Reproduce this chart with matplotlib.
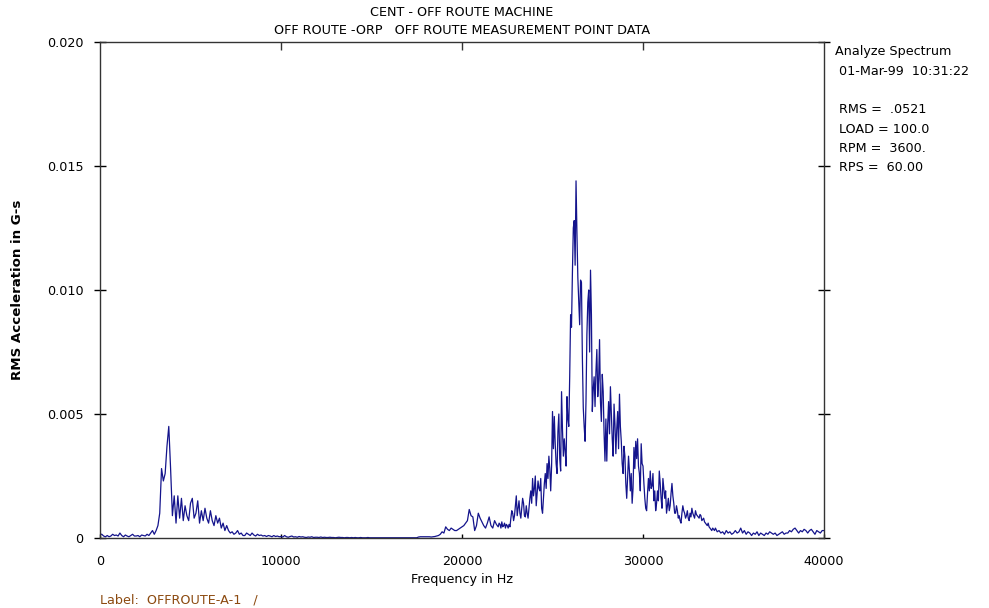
import numpy as np
import matplotlib
matplotlib.use("Agg")
import matplotlib.pyplot as plt

# spectrum amplitudes in milli-G
# low/mid bands every 100 Hz, the busy peak band every 50 Hz
band_low = [  # 0 - 9900 Hz, 100 Hz
    0.15, 0.15, 0.08, 0.05, 0.1, 0.05, 0.08, 0.15, 0.1, 0.12, 0.08, 0.2, 0.1, 0.05, 0.12, 0.08, 0.05, 0.1, 0.15, 0.08,
    0.08, 0.1, 0.05, 0.12, 0.1, 0.08, 0.15, 0.1, 0.2, 0.3, 0.15, 0.3, 0.5, 1.0, 2.8, 2.3, 2.6, 3.7, 4.5, 2.8,
    0.9, 1.7, 0.6, 1.7, 0.8, 1.6, 0.7, 1.3, 0.9, 0.7, 1.4, 1.6, 0.8, 1.0, 1.5, 0.6, 1.1, 0.7, 1.2, 0.8,
    0.6, 1.1, 0.7, 0.5, 0.9, 0.6, 0.8, 0.4, 0.6, 0.3, 0.5, 0.3, 0.2, 0.25, 0.15, 0.2, 0.3, 0.15, 0.2, 0.1,
    0.1, 0.2, 0.15, 0.1, 0.2, 0.12, 0.08, 0.15, 0.1, 0.12, 0.08, 0.1, 0.06, 0.1, 0.08, 0.05, 0.1, 0.06, 0.08, 0.05,
]
band_mid = [  # 10000 - 21900 Hz, 100 Hz
    0.06, 0.04, 0.1, 0.05, 0.03, 0.06, 0.08, 0.04, 0.05, 0.03, 0.06, 0.04, 0.05, 0.03, 0.02, 0.04, 0.03, 0.05, 0.02, 0.03,
    0.03, 0.02, 0.04, 0.02, 0.03, 0.02, 0.02, 0.03, 0.02, 0.02, 0.01, 0.02, 0.03, 0.02, 0.02, 0.01, 0.02, 0.02, 0.01, 0.02,
    0.01, 0.02, 0.01, 0.01, 0.02, 0.01, 0.01, 0.01, 0.02, 0.01, 0.01, 0.01, 0.01, 0.01, 0.01, 0.01, 0.01, 0.01, 0.01, 0.01,
    0.01, 0.01, 0.01, 0.01, 0.01, 0.01, 0.01, 0.01, 0.01, 0.01, 0.01, 0.01, 0.01, 0.01, 0.01, 0.01, 0.04, 0.05, 0.05, 0.05,
    0.05, 0.05, 0.05, 0.04, 0.05, 0.06, 0.08, 0.1, 0.15, 0.25, 0.2, 0.45, 0.35, 0.3, 0.4, 0.35, 0.3, 0.3, 0.35, 0.4,
    0.45, 0.5, 0.6, 0.7, 1.15, 0.9, 0.85, 0.3, 0.5, 1.0, 0.8, 0.65, 0.5, 0.4, 0.6, 0.85, 0.5, 0.4, 0.7, 0.55,
]
band_peak = [  # 22000 - 33950 Hz, 50 Hz
    0.45, 0.6, 0.55, 0.4, 0.65, 0.45, 0.5, 0.6, 0.4, 0.55, 0.5, 0.4, 0.55, 0.45, 0.8, 1.1, 1.0, 0.7, 0.9, 1.3,
    1.7, 0.9, 1.2, 1.5, 1.0, 0.8, 1.2, 1.6, 1.4, 0.9, 0.85, 1.3, 1.0, 0.8, 1.2, 1.6, 1.9, 1.4, 2.4, 1.7,
    2.0, 2.5, 1.3, 1.8, 2.3, 2.0, 1.9, 2.4, 1.2, 1.0, 1.6, 2.2, 2.6, 2.0, 3.0, 2.4, 3.3, 2.8, 1.9, 2.9,
    5.1, 3.6, 4.9, 3.8, 3.0, 2.6, 4.3, 5.0, 3.2, 2.7, 5.9, 4.4, 3.3, 4.0, 3.5, 2.9, 5.7, 4.8, 4.5, 6.5,
    9.0, 8.5, 10.7, 12.5, 12.8, 11.0, 14.4, 12.3, 10.5, 9.5, 8.6, 10.4, 10.3, 7.3, 5.25, 4.5, 3.9, 5.5, 8.2, 9.5,
    10.0, 7.5, 10.8, 9.0, 5.1, 6.0, 6.5, 5.3, 6.7, 7.6, 5.7, 6.4, 8.0, 5.5, 4.7, 6.6, 5.9, 4.2, 3.1, 4.8,
    3.1, 4.6, 5.5, 4.2, 6.1, 5.0, 4.0, 3.3, 5.4, 4.6, 3.4, 4.4, 5.1, 3.6, 5.8, 4.5, 3.9, 3.0, 2.6, 3.7,
    3.3, 2.2, 1.6, 2.5, 3.3, 2.7, 1.9, 2.6, 1.4, 2.0, 3.65, 2.8, 3.9, 3.2, 4.0, 2.9, 2.6, 1.9, 3.8, 3.0,
    2.9, 2.2, 1.6, 1.2, 1.1, 1.8, 2.4, 1.9, 2.7, 2.0, 2.1, 2.6, 1.5, 1.9, 1.1, 1.4, 1.9, 1.5, 2.7, 2.2,
    1.6, 1.2, 2.4, 2.0, 1.6, 1.9, 1.0, 1.3, 1.6, 1.1, 1.3, 1.8, 2.2, 1.7, 1.4, 1.0, 1.0, 1.3, 1.1, 0.8,
    0.9, 0.7, 0.6, 1.0, 1.3, 1.1, 1.0, 0.8, 0.9, 1.1, 0.8, 0.7, 1.0, 0.85, 1.2, 1.0, 0.9, 0.8, 1.1, 0.95,
    0.9, 0.85, 0.8, 0.95, 0.9, 0.7, 0.75, 0.8, 0.65, 0.6, 0.55, 0.5, 0.6, 0.45, 0.4, 0.35, 0.3, 0.4, 0.35, 0.3,
]
band_tail = [  # 34000 - 40000 Hz, 100 Hz
    0.4, 0.25, 0.3, 0.2, 0.25, 0.15, 0.3, 0.2, 0.25, 0.15, 0.2, 0.3, 0.2, 0.25, 0.4, 0.2, 0.3, 0.15, 0.25, 0.2,
    0.1, 0.2, 0.15, 0.25, 0.1, 0.2, 0.15, 0.1, 0.2, 0.15, 0.25, 0.2, 0.15, 0.2, 0.1, 0.15, 0.2, 0.25, 0.15, 0.2,
    0.2, 0.3, 0.25, 0.35, 0.4, 0.3, 0.2, 0.3, 0.25, 0.35, 0.3, 0.2, 0.3, 0.35, 0.25, 0.15, 0.3, 0.25, 0.2, 0.3,
    0.3,
]
# (start Hz, step Hz) of each band
band_grid = [(0, 100), (10000, 100), (22000, 50), (34000, 100)]

y_ticks = [0, 0.005, 0.010, 0.015, 0.020]
y_tick_labels = ["0", "0.005", "0.010", "0.015", "0.020"]
x_ticks = [0, 10000, 20000, 30000, 40000]
x_tick_labels = ["0", "10000", "20000", "30000", "40000"]

title_1 = "CENT - OFF ROUTE MACHINE"
title_2 = "OFF ROUTE -ORP   OFF ROUTE MEASUREMENT POINT DATA"
info_lines = ["Analyze Spectrum", " 01-Mar-99  10:31:22", "", " RMS =  .0521", " LOAD = 100.0",
              " RPM =  3600.", " RPS =  60.00"]
point_label = "Label:  OFFROUTE-A-1   /"

bands = [band_low, band_mid, band_peak, band_tail]
freq = np.concatenate([start + step * np.arange(len(b)) for b, (start, step) in zip(bands, band_grid)])
amp = np.concatenate([np.array(b) for b in bands]) / 1000.0

plt.rcParams['font.family'] = ['DejaVu Sans']
fs = 9.2

fig = plt.figure(figsize=(9.89, 6.08), dpi=100)
ax = fig.add_axes([100 / 989, 70 / 608, 724 / 989, 496 / 608])

ax.plot(freq, amp, color='#14148c', linewidth=0.9)

ax.set_xlim(0, 40000)
ax.set_ylim(0, 0.020)
ax.set_yticks(y_ticks)
ax.set_yticklabels(y_tick_labels, fontsize=fs)
ax.set_xticks(x_ticks)
ax.set_xticklabels(x_tick_labels, fontsize=fs)

ax.tick_params(axis='y', direction='inout', length=8, width=1, left=True, right=True, pad=8)
ax.tick_params(axis='x', direction='in', length=3, width=1, top=False, bottom=True, pad=12)

# top ticks are longer than the bottom ones
top = ax.secondary_xaxis('top')
top.set_xticks(x_ticks[1:-1])
top.set_xticklabels([])
top.tick_params(direction='in', length=6, width=1, color='#333333')
top.spines['top'].set_visible(False)

for sp in ax.spines.values():
    sp.set_linewidth(1.0)
    sp.set_color('#333333')

ax.set_xlabel("Frequency in Hz", fontsize=fs, labelpad=4)
ax.set_ylabel("RMS Acceleration in G-s", fontsize=9.6, fontweight='bold', labelpad=16)

fig.text(462 / 989, 1 - 12 / 608, title_1, ha='center', va='center', fontsize=fs)
fig.text(462 / 989, 1 - 31 / 608, title_2, ha='center', va='center', fontsize=fs)

for i, line in enumerate(info_lines):
    fig.text(835 / 989, 1 - (52 + i * 19.3) / 608, line, ha='left', va='center', fontsize=fs)

fig.text(100 / 989, 1 - 600 / 608, point_label, ha='left', va='center', fontsize=fs, color='#8c4a10')

fig.savefig("out.png", dpi=100)
